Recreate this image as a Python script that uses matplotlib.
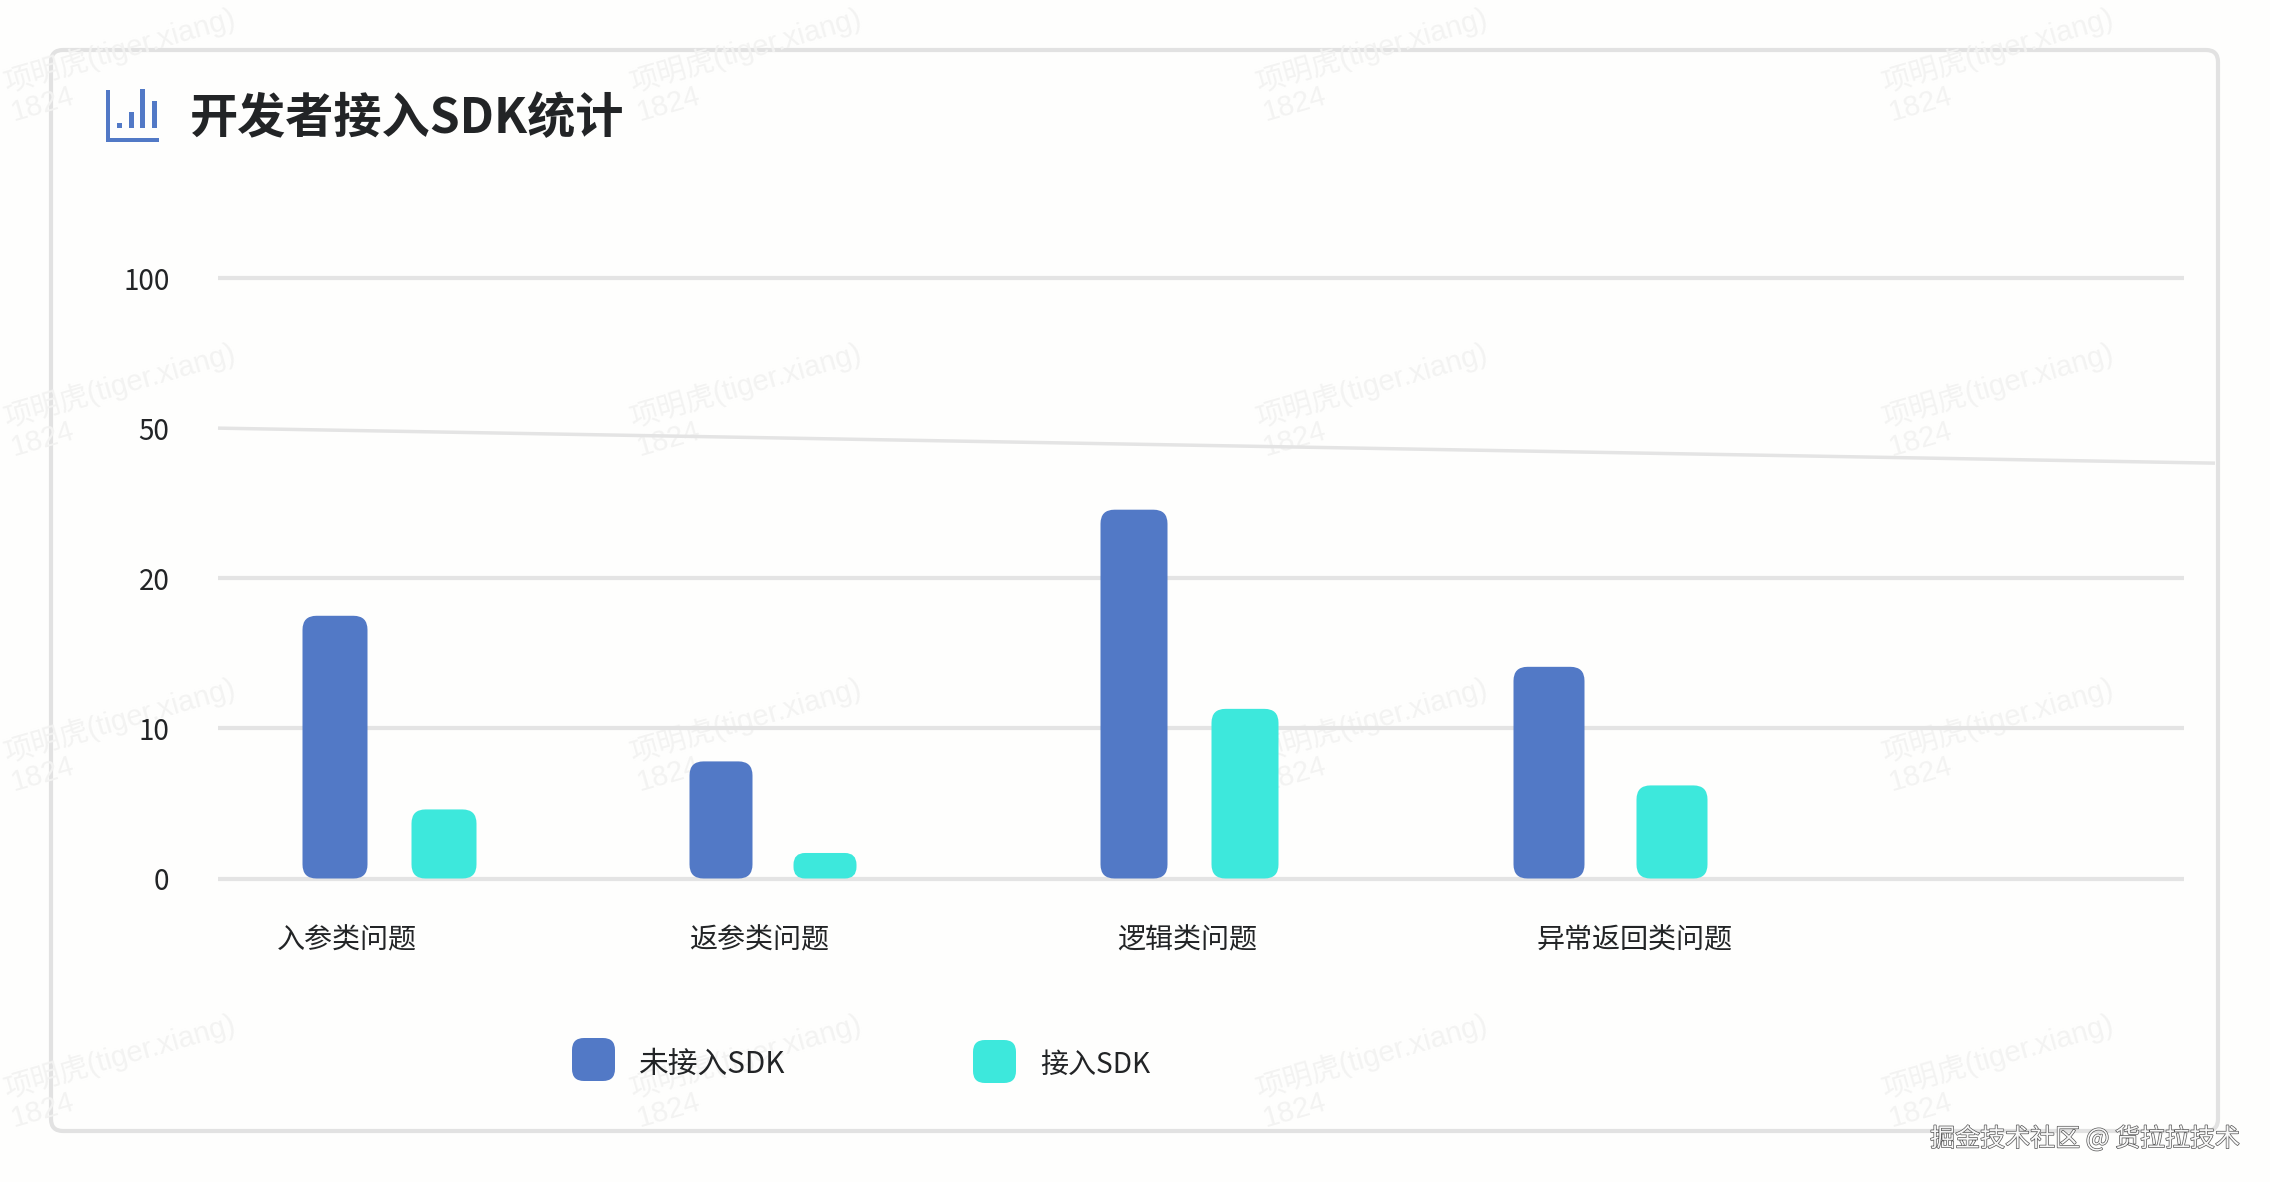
from __future__ import annotations

import matplotlib.pyplot as plt
import matplotlib.patheffects as pe
import numpy as np
from matplotlib.patches import FancyBboxPatch, Rectangle
from matplotlib.transforms import IdentityTransform

plt.rcParams["font.family"] = ["Noto Sans CJK SC", "DejaVu Sans"]

W, H = 2270, 1182
BG = "#fefefd"
GRID = "#e4e4e4"
TEXT = "#222426"
BLUE = "#5279c6"
TEAL = "#3de8dc"

categories = ["入参类问题", "返参类问题", "逻辑类问题", "异常返回类问题"]
series_names = ["未接入SDK", "接入SDK"]
no_sdk = [17.5, 7.8, 33.7, 14.1]
with_sdk = [4.6, 1.7, 11.3, 6.2]
y_ticks = [0, 10, 20, 50, 100]

# layout, in full size pixels
blue_centers = [335, 721, 1134, 1549]
blue_widths = [65, 63, 67, 71]
teal_centers = [444, 825, 1245, 1672]
teal_widths = [65, 63, 67, 71]
label_centers = [347, 759, 1187, 1635]
watermark_cols = [6, 632, 1258, 1884]
watermark_rows = [92, 427, 762, 1098]


def to_even(v):
    return np.interp(v, y_ticks, np.arange(len(y_ticks)))


def from_even(v):
    return np.interp(v, np.arange(len(y_ticks)), y_ticks)


def rounded(ax, x, y, w, h, color, r=10, **kw):
    box = FancyBboxPatch(
        (x, y), w, h, boxstyle=f"round,pad=0,rounding_size={r}", fc=color, ec="none", **kw
    )
    ax.add_patch(box)
    return box


fig = plt.figure(figsize=(W / 100, H / 100), dpi=100, facecolor=BG)

# overlay in image pixels, y going down
bg = fig.add_axes([0, 0, 1, 1], zorder=0)
bg.set_xlim(0, W)
bg.set_ylim(H, 0)
bg.axis("off")

for x0 in watermark_cols:
    for y0 in watermark_rows:
        bg.text(x0, y0, "项明虎(tiger.xiang)", fontsize=21, color="#f3f3f2", rotation=16,
                rotation_mode="anchor", ha="left", va="baseline", family=["Liberation Sans", "Noto Sans CJK SC"])
        bg.text(x0 + 8, y0 + 29, "1824", fontsize=21, color="#f3f3f2", rotation=16,
                rotation_mode="anchor", ha="left", va="baseline", family=["Liberation Sans"])

card = FancyBboxPatch((51, 50), 2167, 1081, boxstyle="round,pad=0,rounding_size=12",
                      fc="none", ec="#e2e2e2", lw=3)
bg.add_patch(card)

# title icon
bg.add_patch(Rectangle((106, 90), 4, 52, fc=BLUE, ec="none"))
bg.add_patch(Rectangle((106, 138), 53, 4, fc=BLUE, ec="none"))
for bx, by in [(117, 123), (129, 112), (140, 89), (152, 101)]:
    bg.add_patch(Rectangle((bx, by), 4.5, 128 - by, fc=BLUE, ec="none"))
bg.text(190, 119, "开发者接入SDK统计", fontsize=34.7, fontweight="bold", color=TEXT, ha="left", va="center")

# chart
ax = fig.add_axes([218 / W, 1 - 878.5 / H, (2184 - 218) / W, (878.5 - 278) / H], zorder=1)
ax.patch.set_alpha(0)
ax.set_yscale("function", functions=(to_even, from_even))
ax.set_xlim(218, 2184)
ax.set_ylim(0, 100)
for s in ax.spines.values():
    s.set_visible(False)
ax.set_yticks(y_ticks)
ax.set_yticklabels([str(t) for t in y_ticks])
ax.minorticks_off()
ax.tick_params(axis="y", length=0, labelsize=20, labelcolor=TEXT, pad=35)
for lab in ax.get_yticklabels():
    lab.set_y(lab.get_position()[1])
ax.set_xticks(label_centers)
ax.set_xticklabels(categories)
ax.tick_params(axis="x", length=0, labelsize=20.2, labelcolor=TEXT, pad=34)

for t in y_ticks:
    if t != 50:
        ax.plot([218, 2184], [t, t], color=GRID, lw=3, clip_on=False, zorder=1, solid_capstyle="butt")
# the 50 line runs off at a slant in the source
ax.plot([218, 2215], [50, 43], color=GRID, lw=2.5, clip_on=False, zorder=1, solid_capstyle="butt")

bars = list(ax.bar(blue_centers, no_sdk, width=blue_widths, color=BLUE, zorder=2))
colors = [BLUE] * len(bars)
bars += list(ax.bar(teal_centers, with_sdk, width=teal_widths, color=TEAL, zorder=2))
colors += [TEAL] * len(with_sdk)

fig.canvas.draw()
for rect, c in zip(bars, colors):
    bb = rect.get_window_extent()
    rect.set_visible(False)
    r = min(14, bb.height / 2.2)
    box = FancyBboxPatch((bb.x0, bb.y0), bb.width, bb.height,
                         boxstyle=f"round,pad=0,rounding_size={r}", fc=c, ec="none",
                         transform=IdentityTransform(), zorder=2, clip_on=False)
    ax.add_patch(box)

# legend
rounded(bg, 572, 1038, 43, 43, BLUE, r=12)
bg.text(639, 1064, series_names[0], fontsize=21.4, color=TEXT, ha="left", va="center")
rounded(bg, 973, 1040, 43, 43, TEAL, r=12)
bg.text(1040, 1065, series_names[1], fontsize=20.2, color=TEXT, ha="left", va="center")

# site mark, embossed
top = fig.add_axes([0, 0, 1, 1], zorder=2)
top.set_xlim(0, W)
top.set_ylim(H, 0)
top.axis("off")
top.patch.set_alpha(0)
mark = top.text(2240, 1139, "掘金技术社区 @ 货拉拉技术", fontsize=18, color="#f8f8f8", ha="right", va="center")
mark.set_path_effects([pe.withStroke(linewidth=1.0, foreground="#555555")])

fig.savefig("out.png", dpi=100, facecolor=BG)
